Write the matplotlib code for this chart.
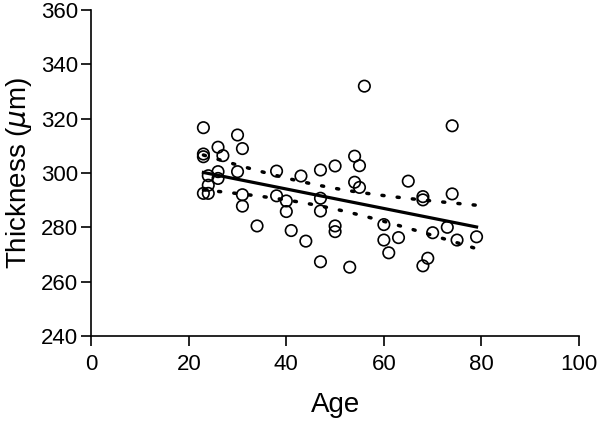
import matplotlib
matplotlib.use("Agg")
import matplotlib.pyplot as plt
import numpy as np

plt.rcParams['font.family'] = ['Liberation Sans', 'DejaVu Sans']

age = [23, 30, 26, 31, 23, 23, 27, 30, 26, 26, 24, 24, 23, 24, 31, 31, 34,
       38, 38, 40, 40, 41, 43, 44, 47, 47, 47, 47, 50, 50, 50, 53, 54, 55,
       54, 55, 56, 60, 60, 61, 63, 65, 68, 68, 70, 73, 74, 74, 75, 79, 69, 68]
thickness = [316.7, 314, 309.5, 309, 307, 306, 306.4, 300.5, 300.5, 298, 299,
             295.5, 292.5, 292.5, 292, 287.8, 280.5, 300.7, 291.6, 289.7,
             285.8, 278.8, 298.9, 274.9, 301.1, 290.7, 286, 267.3, 302.6,
             280.5, 278.4, 265.3, 306.2, 302.7, 296.6, 294.7, 332, 281, 275.3,
             270.6, 276.2, 297, 291.3, 290.1, 278, 280, 317.4, 292.3, 275.3,
             276.5, 268.6, 265.8]

x = np.array(age, dtype=float)
y = np.array(thickness, dtype=float)

# linear fit with 95% confidence band of the mean
slope, icpt = np.polyfit(x, y, 1)
n = len(x)
resid = y - (slope * x + icpt)
s = np.sqrt(np.sum(resid ** 2) / (n - 2))
xs = np.linspace(x.min(), x.max(), 100)
fit = slope * xs + icpt
se = s * np.sqrt(1 / n + (xs - x.mean()) ** 2 / np.sum((x - x.mean()) ** 2))
t = 2.01

fig = plt.figure(figsize=(6, 4.23), dpi=100)
ax = fig.add_axes([0.152, 0.206, 0.813, 0.770])

ax.scatter(x, y, s=68, facecolors='none', edgecolors='black', linewidths=1.2, zorder=3)
ax.plot(xs, fit, color='black', lw=2.3)
ax.plot(xs, fit + t * se, color='black', lw=2.5, linestyle=(0, (0.6, 3.8)), dash_capstyle='round')
ax.plot(xs, fit - t * se, color='black', lw=2.5, linestyle=(0, (0.6, 3.8)), dash_capstyle='round')

ax.set_xlim(0, 100)
ax.set_ylim(240, 360)
ax.set_xticks([0, 20, 40, 60, 80, 100])
ax.set_yticks([240, 260, 280, 300, 320, 340, 360])
ax.spines['top'].set_visible(False)
ax.spines['right'].set_visible(False)
ax.spines['left'].set_linewidth(1.2)
ax.spines['bottom'].set_linewidth(1.2)
ax.tick_params(direction='out', length=7, width=1.2, labelsize=16)
ax.tick_params(axis='x', pad=6)
ax.tick_params(axis='y', pad=2.5)

ax.set_xlabel('Age', fontsize=20, labelpad=12)
ax.set_ylabel(r'Thickness ($\mu$m)', fontsize=20, labelpad=5)

fig.savefig('out.png', dpi=100)
